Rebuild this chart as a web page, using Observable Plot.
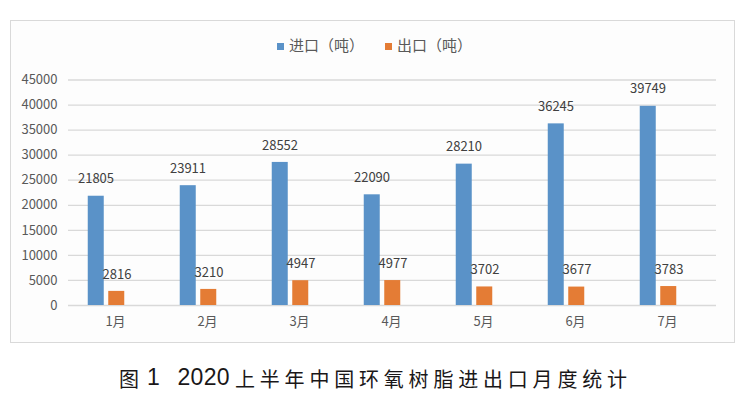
<!DOCTYPE html>
<html>
<head>
<meta charset="utf-8">
<script src="https://cdn.jsdelivr.net/npm/d3@7"></script>
<script src="https://cdn.jsdelivr.net/npm/@observablehq/plot@0.6"></script>
<style>
  html, body { margin: 0; padding: 0; background: #fff; }
  #wrap { position: relative; width: 747px; height: 399px; overflow: hidden; font-family: "Noto Sans CJK SC", "Noto Sans", sans-serif; }
  #box { position: absolute; left: 10px; top: 20px; width: 723px; height: 321px; border: 1px solid #d9d9d9; background: #fdfdfd; }
  #chart { position: absolute; left: 0; top: 0; }
  #legend { position: absolute; top: 34px; left: 0; width: 747px; font-size: 15px; color: #595959; }
  .li { position: absolute; display: flex; align-items: center; white-space: nowrap; }
  .sw { width: 7px; height: 7px; margin-right: 5px; margin-top: 3px; }
  .cap { position: absolute; font-size: 20px; color: #1a1718; white-space: nowrap; line-height: 28px; top: 365px; }
  .capnum { font-family: "Liberation Sans", Arial, sans-serif; font-size: 23px; top: 363px; }
</style>
</head>
<body>
<div id="wrap">
  <div id="box"></div>
  <div id="chart"></div>
  <div id="legend"></div>
  <div id="caption"></div>
</div>
<script>
const months = ["1月", "2月", "3月", "4月", "5月", "6月", "7月"];
const imports = [21805, 23911, 28552, 22090, 28210, 36245, 39749];
const exports_ = [2816, 3210, 4947, 4977, 3702, 3677, 3783];
const seriesNames = ["进口（吨）", "出口（吨）"];
const yTicks = [0, 5000, 10000, 15000, 20000, 25000, 30000, 35000, 40000, 45000];
const captionParts = ["图", "1", "2020", "上半年中国环氧树脂进出口月度统计"];

const colors = ["#5a92c8", "#e47c35"];

const impData = months.map((m, i) => ({month: m, value: imports[i]}));
const expData = months.map((m, i) => ({month: m, value: exports_[i]}));

const chart = Plot.plot({
  width: 747,
  height: 345,
  marginLeft: 68,
  marginRight: 31,
  marginTop: 79.5,
  marginBottom: 40,
  style: {background: "transparent", fontFamily: "'Noto Sans CJK SC', 'Noto Sans', sans-serif"},
  x: {domain: months, range: [57.75, 705.25], padding: 0},
  y: {domain: [0, 45000]},
  marks: [
    Plot.ruleY(yTicks, {stroke: "#d9d9d9", strokeWidth: 1.3}),
    Plot.barY(impData, {x: "month", y: "value", fill: colors[0], insetLeft: 27.75, insetRight: 48.25}),
    Plot.barY(expData, {x: "month", y: "value", fill: colors[1], insetLeft: 48.25, insetRight: 27.75}),
    Plot.text(impData, {x: "month", y: "value", text: d => String(d.value), dx: -10.5, dy: -17, fontSize: 13, fill: "#404040"}),
    Plot.text(expData, {x: "month", y: "value", text: d => String(d.value), dx: 10.5, dy: -17, fontSize: 13, fill: "#404040"}),
    Plot.axisY({ticks: yTicks, tickSize: 0, tickPadding: 11, tickFormat: d => String(d), fontSize: 13, color: "#595959", label: null}),
    Plot.axisX({tickSize: 0, tickPadding: 11, dx: 9, fontSize: 13, color: "#595959", label: null})
  ]
});
document.getElementById("chart").appendChild(chart);

// legend
const legend = document.getElementById("legend");
const legendX = [277, 385];
seriesNames.forEach((name, i) => {
  const item = document.createElement("div");
  item.className = "li";
  item.style.left = legendX[i] + "px";
  const sw = document.createElement("span");
  sw.className = "sw";
  sw.style.background = colors[i];
  const tx = document.createElement("span");
  tx.textContent = name;
  item.appendChild(sw);
  item.appendChild(tx);
  legend.appendChild(item);
});

// caption
const cap = document.getElementById("caption");
const capLeft = [119, 147, 177.5, 235];
const capSpacing = ["0px", "0px", "0.3px", "4.8px"];
const capNum = [false, true, true, false];
captionParts.forEach((p, i) => {
  const s = document.createElement("div");
  s.className = capNum[i] ? "cap capnum" : "cap";
  s.style.left = capLeft[i] + "px";
  s.style.letterSpacing = capSpacing[i];
  s.textContent = p;
  cap.appendChild(s);
});
</script>
</body>
</html>
